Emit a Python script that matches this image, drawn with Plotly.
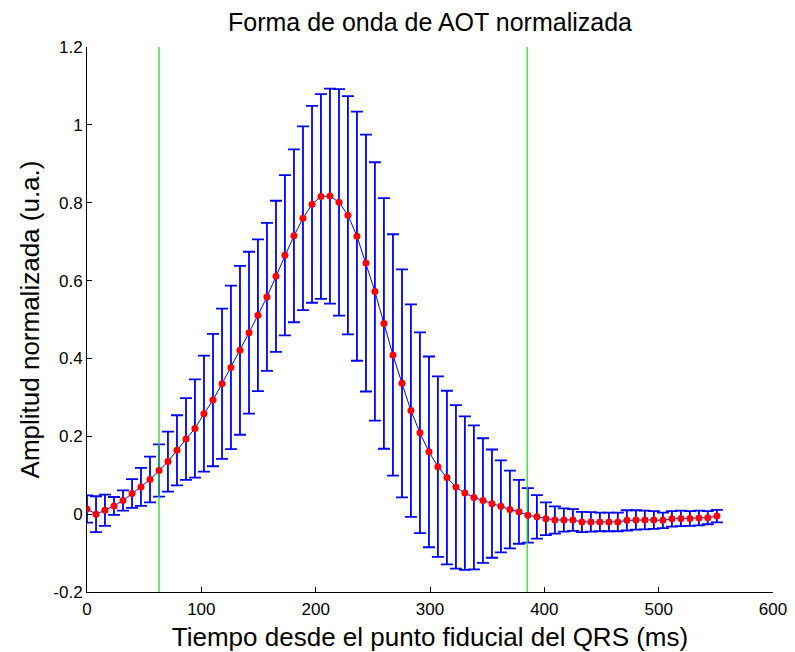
import plotly.graph_objects as go

TIME_MS = [0, 7.9, 15.7, 23.6, 31.5, 39.4, 47.2, 55.1, 63.0, 70.8, 78.7, 86.6, 94.4, 102.3,
           110.2, 118.1, 125.9, 133.8, 141.7, 149.5, 157.4, 165.3, 173.1, 181.0, 188.9, 196.8,
           204.6, 212.5, 220.4, 228.2, 236.1, 244.0, 251.8, 259.7, 267.6, 275.5, 283.3, 291.2,
           299.1, 306.9, 314.8, 322.7, 330.5, 338.4, 346.3, 354.2, 362.0, 369.9, 377.8, 385.6,
           393.5, 401.4, 409.2, 417.1, 425.0, 432.9, 440.7, 448.6, 456.5, 464.3, 472.2, 480.1,
           487.9, 495.8, 503.7, 511.6, 519.4, 527.3, 535.2, 543.0, 550.9]

MEAN = [0.013, 0.000, 0.010, 0.021, 0.035, 0.053, 0.070, 0.089, 0.112, 0.135, 0.164, 0.193,
        0.220, 0.258, 0.293, 0.335, 0.377, 0.421, 0.466, 0.511, 0.558, 0.611, 0.665, 0.715,
        0.760, 0.796, 0.816, 0.817, 0.801, 0.768, 0.714, 0.645, 0.572, 0.490, 0.409, 0.336,
        0.266, 0.209, 0.160, 0.122, 0.094, 0.070, 0.054, 0.043, 0.035, 0.027, 0.020, 0.012,
        0.006, -0.003, -0.007, -0.012, -0.015, -0.015, -0.015, -0.020, -0.020, -0.020, -0.020,
        -0.020, -0.016, -0.015, -0.015, -0.015, -0.016, -0.012, -0.011, -0.011, -0.010,
        -0.009, -0.005]

STD = [0.035, 0.046, 0.040, 0.023, 0.026, 0.037, 0.049, 0.059, 0.067, 0.077, 0.090, 0.105,
       0.126, 0.149, 0.170, 0.193, 0.210, 0.217, 0.208, 0.195, 0.190, 0.194, 0.206, 0.222,
       0.236, 0.253, 0.263, 0.276, 0.291, 0.306, 0.320, 0.330, 0.332, 0.322, 0.310, 0.293,
       0.273, 0.258, 0.245, 0.232, 0.223, 0.210, 0.197, 0.185, 0.160, 0.139, 0.118, 0.100,
       0.082, 0.070, 0.056, 0.042, 0.035, 0.030, 0.028, 0.026, 0.025, 0.024, 0.024, 0.024,
       0.026, 0.025, 0.024, 0.023, 0.020, 0.020, 0.020, 0.019, 0.019, 0.017, 0.016]

MARKER_LINES_MS = [63, 385]

X_TICKS = [0, 100, 200, 300, 400, 500, 600]
Y_TICKS = [-0.2, 0, 0.2, 0.4, 0.6, 0.8, 1, 1.2]
Y_TICK_LABELS = ["-0.2", "0", "0.2", "0.4", "0.6", "0.8", "1", "1.2"]
X_RANGE = [0, 600]
Y_RANGE = [-0.2, 1.2]

FONT = "Liberation Sans"

fig = go.Figure()

fig.add_trace(go.Scatter(
    x=TIME_MS, y=MEAN, mode="lines",
    line=dict(color="#0000ff", width=1),
    error_y=dict(type="data", array=STD, symmetric=True, color="#0000ff",
                 thickness=1.8, width=6),
    showlegend=False, hoverinfo="skip"))

for xv in MARKER_LINES_MS:
    fig.add_trace(go.Scatter(
        x=[xv, xv], y=Y_RANGE, mode="lines",
        line=dict(color="#22e022", width=1.3),
        showlegend=False, hoverinfo="skip"))

fig.add_trace(go.Scatter(
    x=TIME_MS, y=MEAN, mode="markers",
    marker=dict(color="#ff0000", size=7, line=dict(width=0)),
    showlegend=False, hoverinfo="skip"))

fig.update_layout(
    width=795, height=652,
    paper_bgcolor="white", plot_bgcolor="white",
    margin=dict(l=87, r=22, t=47, b=60),
    font=dict(family=FONT, color="black", size=17),
    title=dict(text="Forma de onda de AOT normalizada", x=0.5, xanchor="center", xref="paper",
               y=1 - 22 / 652, yanchor="middle", yref="container",
               font=dict(family=FONT, size=25, color="black")),
)

fig.update_xaxes(
    range=X_RANGE, tickvals=X_TICKS, ticktext=[str(v) for v in X_TICKS],
    showline=True, linecolor="black", linewidth=1, mirror=False,
    ticks="inside", ticklen=5, tickcolor="black", showgrid=False, zeroline=False,
    tickfont=dict(family=FONT, size=17), ticklabelstandoff=2, automargin=False,
    title=dict(text="Tiempo desde el punto fiducial del QRS (ms)",
               font=dict(family=FONT, size=26), standoff=9),
)
fig.update_yaxes(
    range=Y_RANGE, tickvals=Y_TICKS, ticktext=Y_TICK_LABELS,
    showline=True, linecolor="black", linewidth=1, mirror=False,
    ticks="inside", ticklen=5, tickcolor="black", showgrid=False, zeroline=False,
    tickfont=dict(family=FONT, size=17), automargin=False,
    title=dict(text="Amplitud normalizada (u.a.)",
               font=dict(family=FONT, size=26), standoff=6),
)

fig.write_html("out.html")
